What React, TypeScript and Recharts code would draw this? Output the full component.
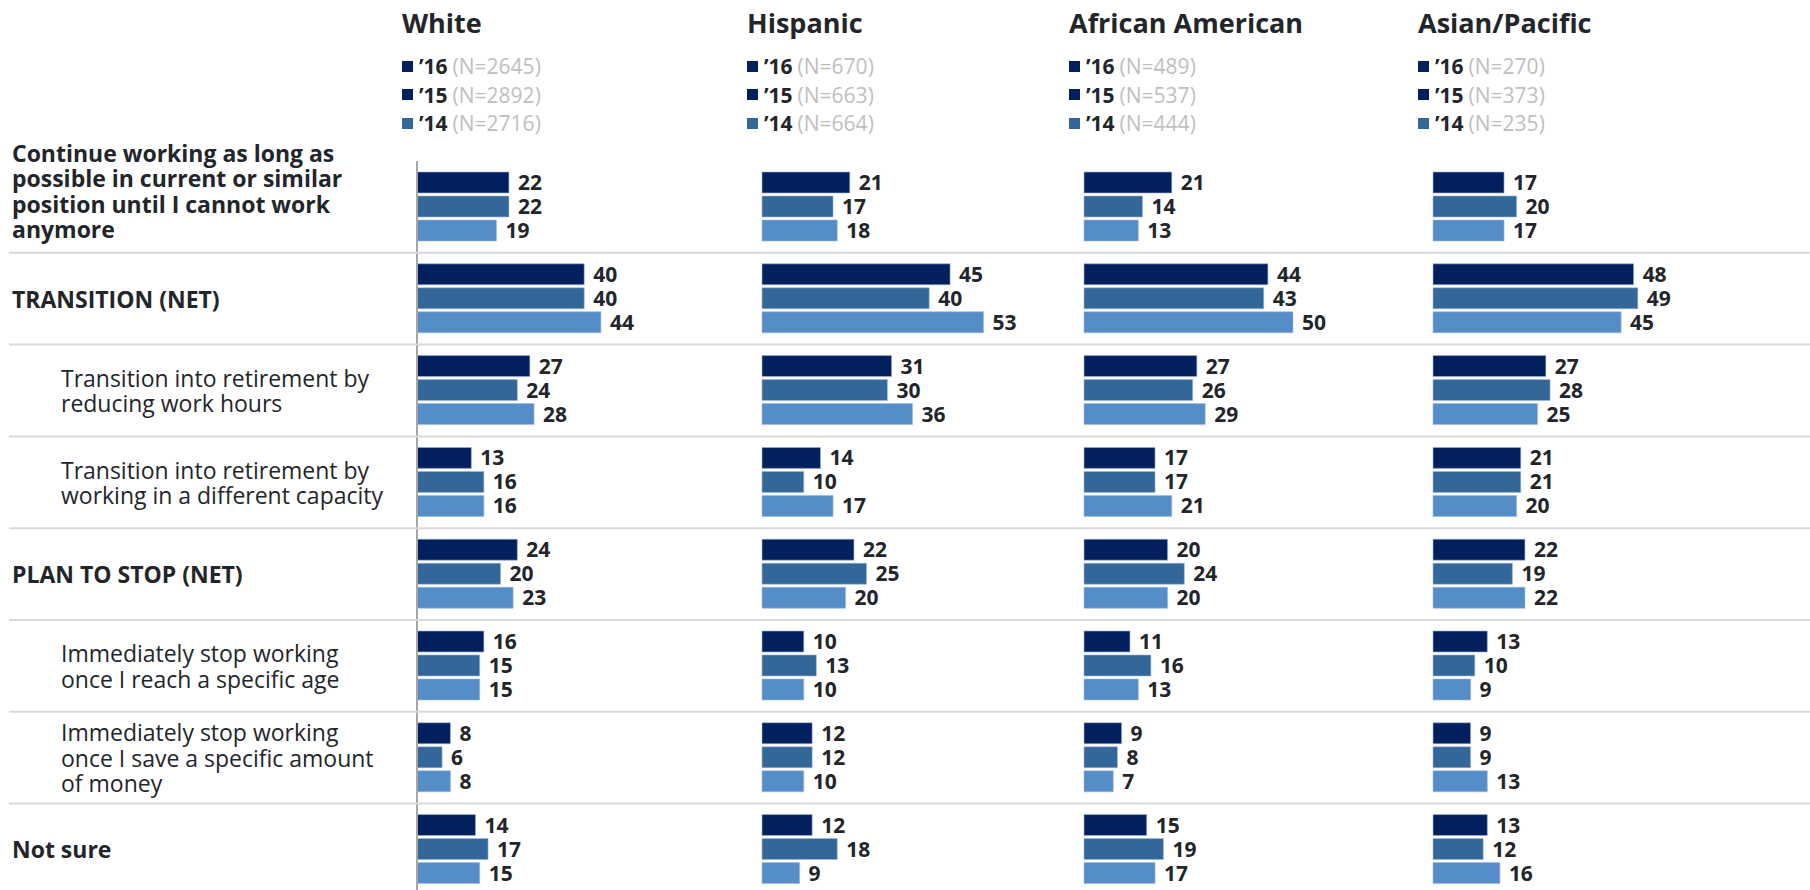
import { BarChart, Bar, XAxis, YAxis, LabelList } from "recharts";

// row labels, split the way they wrap in the original slide
const rowLines = [
  ["Continue working as long as", "possible in current or similar", "position until I cannot work", "anymore"],
  ["TRANSITION (NET)"],
  ["Transition into retirement by", "reducing work hours"],
  ["Transition into retirement by", "working in a different capacity"],
  ["PLAN TO STOP (NET)"],
  ["Immediately stop working", "once I reach a specific age"],
  ["Immediately stop working", "once I save a specific amount", "of money"],
  ["Not sure"],
];
const rowIsSub = [false, false, true, true, false, true, true, false];

const groups = ["White", "Hispanic", "African American", "Asian/Pacific"];
const years = ["’16", "’15", "’14"];

const white16 = [22, 40, 27, 13, 24, 16, 8, 14];
const white15 = [22, 40, 24, 16, 20, 15, 6, 17];
const white14 = [19, 44, 28, 16, 23, 15, 8, 15];

const hispanic16 = [21, 45, 31, 14, 22, 10, 12, 12];
const hispanic15 = [17, 40, 30, 10, 25, 13, 12, 18];
const hispanic14 = [18, 53, 36, 17, 20, 10, 10, 9];

const african16 = [21, 44, 27, 17, 20, 11, 9, 15];
const african15 = [14, 43, 26, 17, 24, 16, 8, 19];
const african14 = [13, 50, 29, 21, 20, 13, 7, 17];

const asian16 = [17, 48, 27, 21, 22, 13, 9, 13];
const asian15 = [20, 49, 28, 21, 19, 10, 9, 12];
const asian14 = [17, 45, 25, 20, 22, 9, 13, 16];

const nWhite = [2645, 2892, 2716];
const nHispanic = [670, 663, 664];
const nAfrican = [489, 537, 444];
const nAsian = [270, 373, 235];

const series = [
  [white16, white15, white14],
  [hispanic16, hispanic15, hispanic14],
  [african16, african15, african14],
  [asian16, asian15, asian14],
];
const sampleSizes = [nWhite, nHispanic, nAfrican, nAsian];

const NAVY = "#03205e";
const MID = "#336699";
const LIGHT = "#558dc9";
const barColors = [NAVY, MID, LIGHT];
const legendColors = [NAVY, NAVY, MID]; // the slide legend shows it like this
const TEXT = "#22262b";
const FONT = "'Open Sans', Lato, sans-serif";

const W = 1810;
const H = 890;
const AXIS_X = [417, 762, 1084, 1433];
const X_MAX = 60;
const PLOT_W = X_MAX * 4.18;
const TOP = 161;
const BAND = 91.8;
const PLOT_H = BAND * rowLines.length;
const CHART_H = TOP + PLOT_H + 4;

const buildData = (k: number) =>
  rowLines.map((lines, i) => ({
    row: lines.join(" "),
    y16: series[k][0][i],
    y15: series[k][1][i],
    y14: series[k][2][i],
  }));

const RowTick = (props: any) => {
  const { y, index } = props;
  const lines = rowLines[index];
  const x = rowIsSub[index] ? 61 : 12;
  const lh = 25.5;
  const shift = lines.length > 3 ? -16 : 0;
  const y0 = y - ((lines.length - 1) * lh) / 2 + shift;
  return (
    <g>
      <text
        x={x}
        y={y0}
        fill={TEXT}
        fontFamily={FONT}
        fontSize={23}
        fontWeight={rowIsSub[index] ? 400 : 700}
        dominantBaseline="central"
      >
        {lines.map((l, j) => (
          <tspan key={j} x={x} y={y0 + j * lh}>
            {l}
          </tspan>
        ))}
      </text>
      {index < rowLines.length - 1 && (
        <line x1={9} x2={W} y1={y + BAND / 2} y2={y + BAND / 2} stroke="#d9d9d9" strokeWidth={2} />
      )}
    </g>
  );
};

function GroupChart({ k }: { k: number }) {
  const first = k === 0;
  const width = first ? W : PLOT_W + 90;
  const margin = first
    ? { top: TOP, right: W - AXIS_X[0] - PLOT_W, bottom: 4, left: 0 }
    : { top: TOP, right: 80, bottom: 4, left: 10 };
  return (
    <div style={{ position: "absolute", left: first ? 0 : AXIS_X[k] - 10, top: 0 }}>
      <BarChart
        width={width}
        height={CHART_H}
        data={buildData(k)}
        layout="vertical"
        margin={margin}
        barSize={21}
        barGap={3}
      >
        <XAxis type="number" domain={[0, X_MAX]} hide />
        <YAxis
          type="category"
          dataKey="row"
          width={first ? AXIS_X[0] : 0}
          axisLine={{ stroke: "#a6a6a6", strokeWidth: 2 }}
          tickLine={false}
          tick={first ? <RowTick /> : false}
          interval={0}
        />
        {["y16", "y15", "y14"].map((key, j) => (
          <Bar key={key} dataKey={key} fill={barColors[j]} stroke="#9fb8dc" strokeWidth={0.6} isAnimationActive={false}>
            <LabelList
              dataKey={key}
              position="right"
              offset={9}
              fill={TEXT}
              fontFamily={FONT}
              fontSize={21}
              fontWeight={700}
            />
          </Bar>
        ))}
      </BarChart>
    </div>
  );
}

function GroupHeader({ k }: { k: number }) {
  const left = AXIS_X[k] - 15;
  return (
    <>
      <div
        style={{
          position: "absolute",
          left,
          top: 6,
          fontSize: 27,
          fontWeight: 700,
          lineHeight: "34px",
          color: TEXT,
          whiteSpace: "nowrap",
        }}
      >
        {groups[k]}
      </div>
      <div style={{ position: "absolute", left, top: 52, fontSize: 21, lineHeight: "28.5px" }}>
        {years.map((yr, j) => (
          <div key={yr} style={{ whiteSpace: "nowrap", display: "flex", alignItems: "center" }}>
            <span
              style={{
                display: "inline-block",
                width: 11,
                height: 11,
                background: legendColors[j],
                marginRight: 6,
              }}
            />
            <span style={{ fontWeight: 700, color: TEXT }}>{yr}</span>
            <span style={{ color: "#bfbfbf", marginLeft: 5 }}>(N={sampleSizes[k][j]})</span>
          </div>
        ))}
      </div>
    </>
  );
}

export default function App() {
  return (
    <div
      style={{
        position: "absolute",
        left: 0,
        top: 0,
        width: W,
        height: H,
        overflow: "hidden",
        background: "#fff",
        fontFamily: FONT,
      }}
    >
      {groups.map((g, k) => (
        <GroupChart key={g} k={k} />
      ))}
      {groups.map((g, k) => (
        <GroupHeader key={g} k={k} />
      ))}
    </div>
  );
}
